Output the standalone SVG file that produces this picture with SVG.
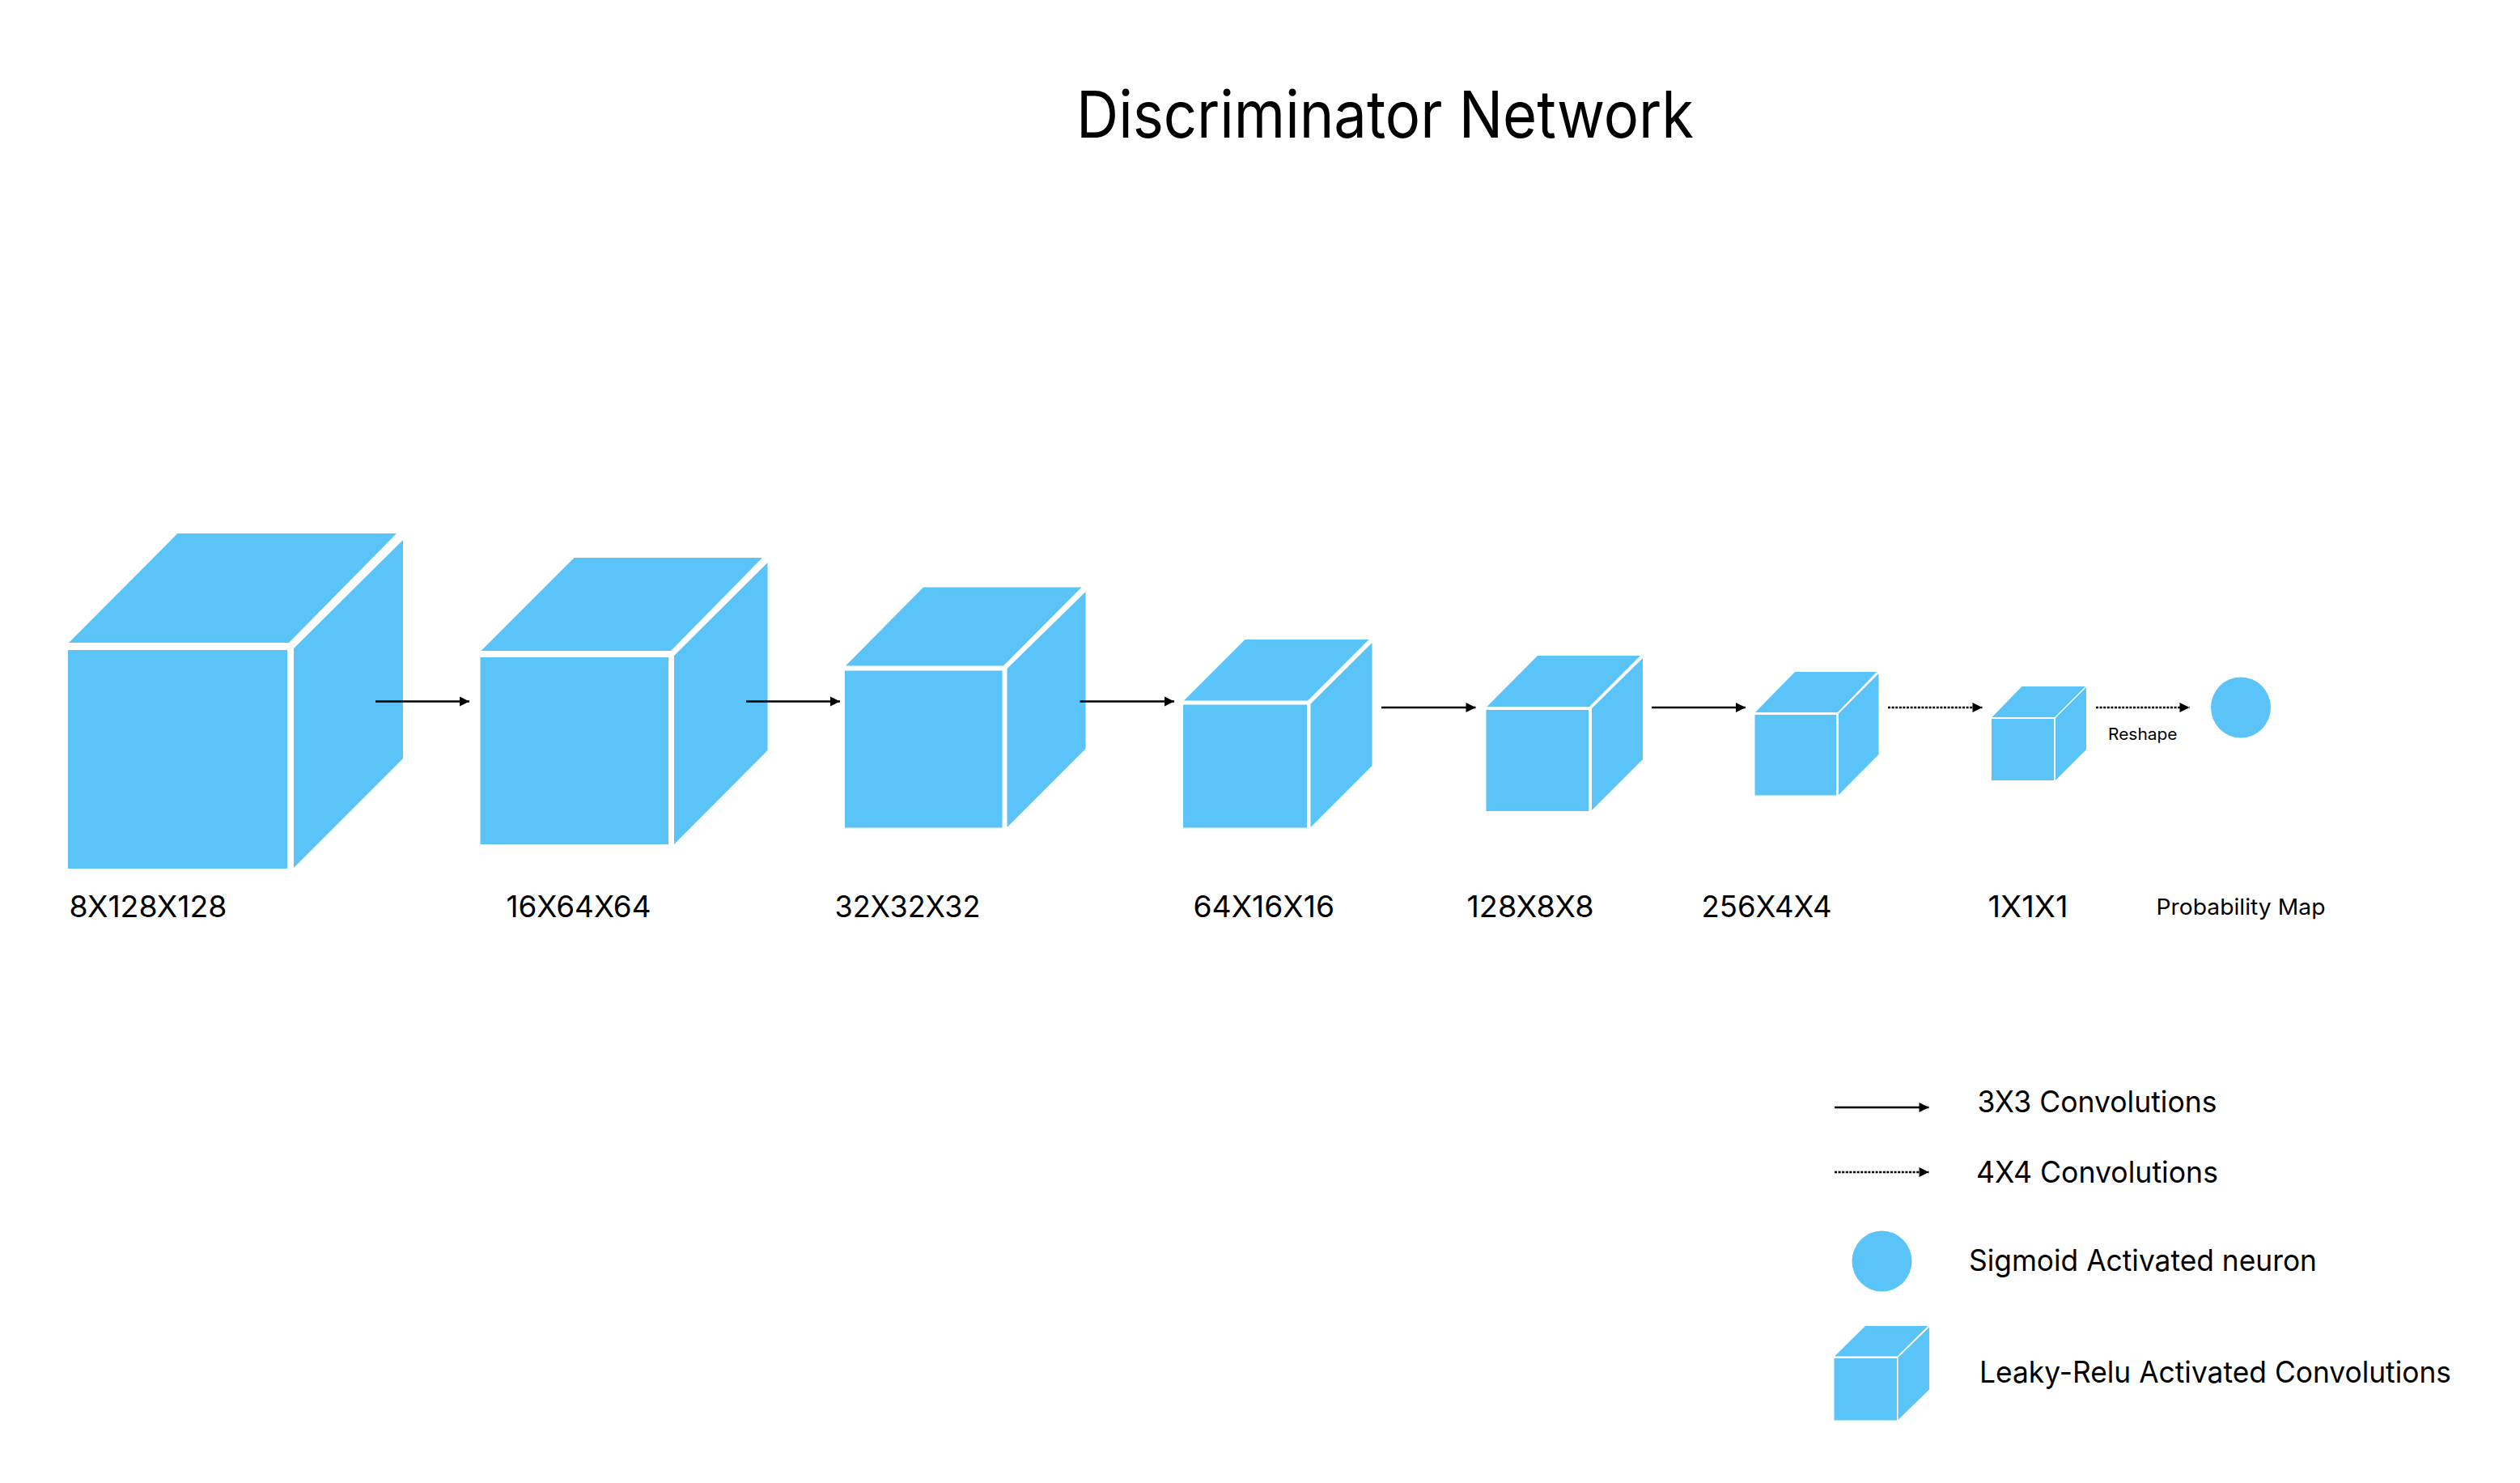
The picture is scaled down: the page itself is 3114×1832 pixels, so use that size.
<svg xmlns="http://www.w3.org/2000/svg" width="3114" height="1832" viewBox="0 0 3114 1832">
<defs>
<style>
.f{fill:#5ac3f7}
text{font-family:Inter,"Liberation Sans",sans-serif;fill:#000;font-size:37px}
.a{stroke:#000;stroke-width:2.6;fill:none;marker-end:url(#h)}
.d{stroke-dasharray:3 1.6}
</style>
<marker id="h" markerUnits="userSpaceOnUse" markerWidth="13" markerHeight="13" refX="12.5" refY="6.5" orient="auto"><path d="M0.5 0.5L12.5 6.5L0.5 12.5Z" fill="#000"/></marker>
</defs>
<rect width="3114" height="1832" fill="#fff"/>
<text id="title" x="1330" y="170" style="font-size:80px" textLength="763" lengthAdjust="spacingAndGlyphs">Discriminator Network</text>
<g id="cube1" class="f"><rect x="84" y="803" width="271" height="270"/><polygon points="85,794 219.500,659 490,659 357,794"/><polygon points="363,801 498,667 498,937 363,1072"/></g>
<g id="cube2" class="f"><rect x="593.500" y="812" width="232.500" height="231"/><polygon points="594.500,804 709.500,689 942,689 829,804"/><polygon points="833,810 948.500,695 948.500,927 833,1043"/></g>
<g id="cube3" class="f"><rect x="1044" y="828.5" width="194.500" height="194"/><polygon points="1045,822.5 1141,725.5 1336.5,725.5 1240,822.5"/><polygon points="1244.5,826 1341.5,731 1341.5,925 1244.5,1022"/></g>
<g id="cube4" class="f"><rect x="1462" y="870.5" width="153" height="152"/><polygon points="1463,865.500 1538.500,790 1691.500,790 1616,865.500"/><polygon points="1619.500,869.500 1695.500,794 1695.500,946 1619.500,1022"/></g>
<g id="cube5" class="f"><rect x="1836.500" y="877" width="126.500" height="125"/><polygon points="1837.500,873 1900,810 2027,810 1964,873"/><polygon points="1967,875 2030,813 2030,938 1967,1001"/></g>
<g id="cube6" class="f"><rect x="2168.500" y="883" width="100.500" height="99.500"/><polygon points="2169,880 2218,830 2319,830 2271,880"/><polygon points="2272,881.500 2321.500,832 2321.500,932 2272,982"/></g>
<g id="cube7" class="f"><rect x="2461" y="888" width="77" height="76"/><polygon points="2461.500,886 2498.500,848 2577,848 2539,886"/><polygon points="2540,887 2578,849 2578,926 2540,964"/></g>
<g id="neuron"><ellipse class="f" cx="2769" cy="874" rx="37" ry="37.500"/></g>
<g id="connectors">
<line class="a" x1="464" y1="866.500" x2="580" y2="866.500"/>
<line class="a" x1="922" y1="866.500" x2="1038" y2="866.500"/>
<line class="a" x1="1334.500" y1="866.500" x2="1451" y2="866.500"/>
<line class="a" x1="1707" y1="874" x2="1823.500" y2="874"/>
<line class="a" x1="2041" y1="874" x2="2157" y2="874"/>
<line class="a d" x1="2333" y1="874" x2="2449.500" y2="874"/>
<line class="a d" x1="2590" y1="874" x2="2705.500" y2="874"/>
<line class="a" x1="2267" y1="1368" x2="2383.500" y2="1368"/>
<line class="a d" x1="2267" y1="1448" x2="2383.500" y2="1448"/>
</g>
<g id="labels">
<text x="85.500" y="1133" textLength="195" lengthAdjust="spacingAndGlyphs">8X128X128</text>
<text x="625.500" y="1133" textLength="179" lengthAdjust="spacingAndGlyphs">16X64X64</text>
<text x="1031.500" y="1133" textLength="180" lengthAdjust="spacingAndGlyphs">32X32X32</text>
<text x="1474.500" y="1133" textLength="174.500" lengthAdjust="spacingAndGlyphs">64X16X16</text>
<text x="1812.500" y="1133" textLength="157" lengthAdjust="spacingAndGlyphs">128X8X8</text>
<text x="2102.500" y="1133" textLength="161" lengthAdjust="spacingAndGlyphs">256X4X4</text>
<text x="2456.500" y="1133" textLength="99" lengthAdjust="spacingAndGlyphs">1X1X1</text>
<text x="2664.500" y="1130" style="font-size:27.500px" textLength="209" lengthAdjust="spacingAndGlyphs">Probability Map</text>
<text x="2605" y="914" style="font-size:20px" textLength="85.500" lengthAdjust="spacingAndGlyphs">Reshape</text>
</g>
<g id="legend">
<text x="2443.500" y="1374" textLength="296" lengthAdjust="spacingAndGlyphs">3X3 Convolutions</text>
<text x="2442" y="1461" textLength="299" lengthAdjust="spacingAndGlyphs">4X4 Convolutions</text>
<g id="legend-neuron"><ellipse class="f" cx="2325.500" cy="1558" rx="37" ry="37.500"/></g>
<text x="2433" y="1570" textLength="430" lengthAdjust="spacingAndGlyphs">Sigmoid Activated neuron</text>
<g id="legend-cube" class="f"><rect x="2266.500" y="1678" width="77.500" height="76.500"/><polygon points="2267,1675.500 2305,1638 2382.500,1638 2344.500,1675.500"/><polygon points="2345.500,1677 2384,1639.500 2384,1716.500 2345.500,1754"/></g>
<text x="2446" y="1708" textLength="583" lengthAdjust="spacingAndGlyphs">Leaky-Relu Activated Convolutions</text>
</g>
</svg>
